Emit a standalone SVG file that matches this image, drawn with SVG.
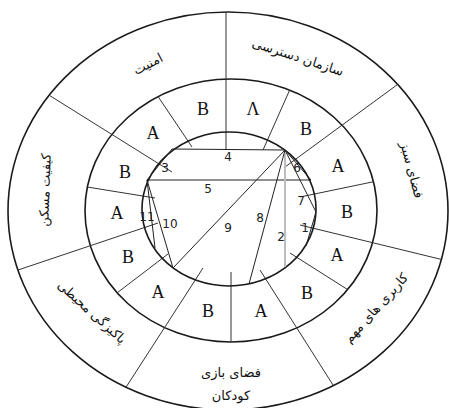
<svg xmlns="http://www.w3.org/2000/svg" width="449" height="408" viewBox="0 0 449 408">
<style>
.ring{fill:none;stroke:#1a1a1a;stroke-width:1.6}
.div{stroke:#333;stroke-width:1;fill:none}
.ch{stroke:#222;stroke-width:1;fill:none}
.let{font-family:"Liberation Serif",serif;font-size:18px;fill:#111;text-anchor:middle;dominant-baseline:central}
.num{font-family:"DejaVu Sans",sans-serif;font-size:12px;fill:#222;text-anchor:middle;dominant-baseline:central}
.fa{font-family:"DejaVu Sans","Noto Sans",sans-serif;font-size:13px;fill:#111;text-anchor:middle;dominant-baseline:central}
</style>
<defs>
<clipPath id="cOuter"><ellipse cx="228" cy="211" rx="220" ry="199"/></clipPath>
<clipPath id="cMid"><ellipse cx="231" cy="210.5" rx="146" ry="131.5"/></clipPath>
</defs>
<rect width="449" height="408" fill="#fff"/>
<g id="rings">
<ellipse class="ring" cx="228" cy="211" rx="220" ry="199"/>
<ellipse class="ring" cx="231" cy="210.5" rx="146" ry="131.5"/>
</g>
<g id="connectors">
<g clip-path="url(#cOuter)">
<line class="div" x1="226" y1="2" x2="226" y2="150"/>
<line class="div" x1="405" y1="79" x2="285" y2="167"/>
<line class="div" x1="456" y1="263" x2="300" y2="225"/>
<line class="div" x1="340" y1="396" x2="260" y2="270"/>
<line class="div" x1="121" y1="395" x2="203" y2="268"/>
<line class="div" x1="9" y1="273" x2="158" y2="223"/>
<line class="div" x1="44" y1="92" x2="172" y2="172"/>
</g>
<g clip-path="url(#cMid)">
<line class="div" x1="155" y1="92" x2="192" y2="147"/>
<line class="div" x1="291" y1="87" x2="263" y2="150"/>
<line class="div" x1="377" y1="181" x2="300" y2="197"/>
<line class="div" x1="353" y1="293" x2="290" y2="253"/>
<line class="div" x1="231" y1="272" x2="231" y2="348"/>
<line class="div" x1="113" y1="296" x2="168" y2="254"/>
<line class="div" x1="81" y1="186" x2="155" y2="198"/>
</g>
</g>
<g id="inner">
<ellipse class="ring" cx="229" cy="209" rx="87" ry="77" fill="#fff"/>
<line class="ch" x1="172" y1="149" x2="147" y2="180"/>
<line class="ch" x1="172" y1="149" x2="285" y2="150"/>
<line class="ch" x1="147" y1="180" x2="311" y2="180"/>
<line class="ch" x1="285" y1="150" x2="311" y2="180"/>
<line class="ch" x1="285" y1="150" x2="316" y2="212"/>
<line class="ch" x1="316" y1="212" x2="306" y2="246"/>
<line x1="285" y1="152" x2="285" y2="267" stroke="#bdbdbd" stroke-width="2"/>
<line class="ch" x1="285" y1="150" x2="249" y2="284"/>
<line class="ch" x1="285" y1="150" x2="173" y2="268"/>
<line class="ch" x1="147" y1="180" x2="173" y2="268"/>
<line class="ch" x1="147" y1="180" x2="155" y2="248"/>
</g>
<g id="numbers">
<text class="num" x="165" y="168">3</text>
<text class="num" x="228" y="157">4</text>
<text class="num" x="208" y="189">5</text>
<text class="num" x="297" y="168">6</text>
<text class="num" x="301" y="201">7</text>
<text class="num" x="260" y="218">8</text>
<text class="num" x="228" y="228">9</text>
<text class="num" x="170" y="224">10</text>
<text class="num" x="147" y="217">11</text>
<text class="num" x="281" y="237">2</text>
<text class="num" x="305" y="228">1</text>
</g>
<g id="middle-labels">
<text class="let" x="203" y="109">B</text>
<text class="let" x="253" y="109">Λ</text>
<text class="let" x="306" y="129">B</text>
<text class="let" x="338" y="166">A</text>
<text class="let" x="347" y="212">B</text>
<text class="let" x="337" y="255">A</text>
<text class="let" x="307" y="293">B</text>
<text class="let" x="261" y="311">A</text>
<text class="let" x="208" y="311">B</text>
<text class="let" x="158" y="292">A</text>
<text class="let" x="128" y="257">B</text>
<text class="let" x="117" y="213">A</text>
<text class="let" x="125" y="172">B</text>
<text class="let" x="153" y="133">A</text>
</g>
<g id="outer-labels">
<text class="fa" transform="translate(148,64) rotate(-28)">امنیت</text>
<text class="fa" transform="translate(298,57) rotate(18)">سازمان دسترسی</text>
<text class="fa" transform="translate(412,170) rotate(75)">فضای سبز</text>
<text class="fa" transform="translate(376,308) rotate(-48)">کاربری های مهم</text>
<text class="fa" x="231" y="372">فضای بازی</text>
<text class="fa" x="231" y="395">کودکان</text>
<text class="fa" transform="translate(92,312) rotate(42)">پاکیزگی محیطی</text>
<text class="fa" transform="translate(45,190) rotate(-88)">کیفیت مسکن</text>
</g>
</svg>
